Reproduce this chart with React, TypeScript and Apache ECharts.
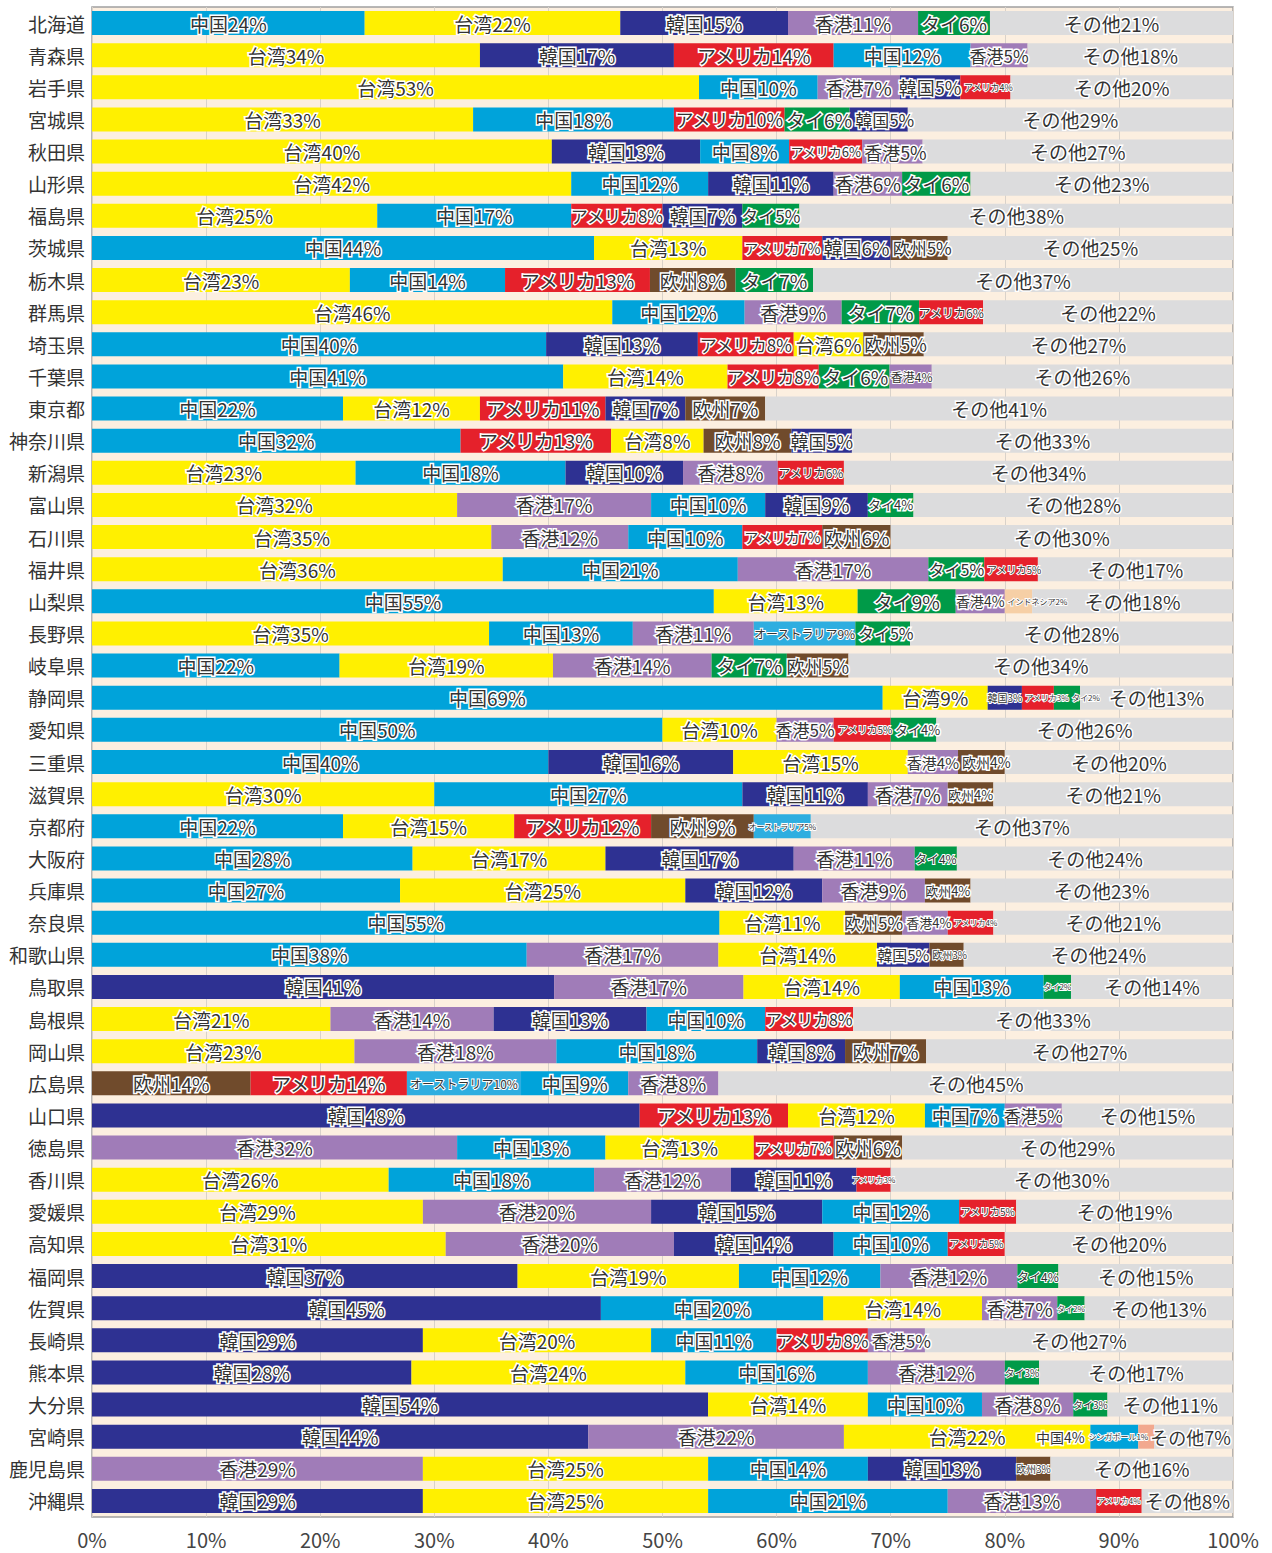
import React, { useEffect, useRef } from "react";
import * as echarts from "echarts";

const prefectures = [
  "北海道", "青森県", "岩手県", "宮城県", "秋田県", "山形県", "福島県", "茨城県", "栃木県", "群馬県",
  "埼玉県", "千葉県", "東京都", "神奈川県", "新潟県", "富山県", "石川県", "福井県", "山梨県", "長野県",
  "岐阜県", "静岡県", "愛知県", "三重県", "滋賀県", "京都府", "大阪府", "兵庫県", "奈良県", "和歌山県",
  "鳥取県", "島根県", "岡山県", "広島県", "山口県", "徳島県", "香川県", "愛媛県", "高知県", "福岡県",
  "佐賀県", "長崎県", "熊本県", "大分県", "宮崎県", "鹿児島県", "沖縄県",
];

// Markets in each prefecture's bar, left to right
const markets: string[][] = [
  ["中国", "台湾", "韓国", "香港", "タイ", "その他"],
  ["台湾", "韓国", "アメリカ", "中国", "香港", "その他"],
  ["台湾", "中国", "香港", "韓国", "アメリカ", "その他"],
  ["台湾", "中国", "アメリカ", "タイ", "韓国", "その他"],
  ["台湾", "韓国", "中国", "アメリカ", "香港", "その他"],
  ["台湾", "中国", "韓国", "香港", "タイ", "その他"],
  ["台湾", "中国", "アメリカ", "韓国", "タイ", "その他"],
  ["中国", "台湾", "アメリカ", "韓国", "欧州", "その他"],
  ["台湾", "中国", "アメリカ", "欧州", "タイ", "その他"],
  ["台湾", "中国", "香港", "タイ", "アメリカ", "その他"],
  ["中国", "韓国", "アメリカ", "台湾", "欧州", "その他"],
  ["中国", "台湾", "アメリカ", "タイ", "香港", "その他"],
  ["中国", "台湾", "アメリカ", "韓国", "欧州", "その他"],
  ["中国", "アメリカ", "台湾", "欧州", "韓国", "その他"],
  ["台湾", "中国", "韓国", "香港", "アメリカ", "その他"],
  ["台湾", "香港", "中国", "韓国", "タイ", "その他"],
  ["台湾", "香港", "中国", "アメリカ", "欧州", "その他"],
  ["台湾", "中国", "香港", "タイ", "アメリカ", "その他"],
  ["中国", "台湾", "タイ", "香港", "インドネシア", "その他"],
  ["台湾", "中国", "香港", "オーストラリア", "タイ", "その他"],
  ["中国", "台湾", "香港", "タイ", "欧州", "その他"],
  ["中国", "台湾", "韓国", "アメリカ", "タイ", "その他"],
  ["中国", "台湾", "香港", "アメリカ", "タイ", "その他"],
  ["中国", "韓国", "台湾", "香港", "欧州", "その他"],
  ["台湾", "中国", "韓国", "香港", "欧州", "その他"],
  ["中国", "台湾", "アメリカ", "欧州", "オーストラリア", "その他"],
  ["中国", "台湾", "韓国", "香港", "タイ", "その他"],
  ["中国", "台湾", "韓国", "香港", "欧州", "その他"],
  ["中国", "台湾", "欧州", "香港", "アメリカ", "その他"],
  ["中国", "香港", "台湾", "韓国", "欧州", "その他"],
  ["韓国", "香港", "台湾", "中国", "タイ", "その他"],
  ["台湾", "香港", "韓国", "中国", "アメリカ", "その他"],
  ["台湾", "香港", "中国", "韓国", "欧州", "その他"],
  ["欧州", "アメリカ", "オーストラリア", "中国", "香港", "その他"],
  ["韓国", "アメリカ", "台湾", "中国", "香港", "その他"],
  ["香港", "中国", "台湾", "アメリカ", "欧州", "その他"],
  ["台湾", "中国", "香港", "韓国", "アメリカ", "その他"],
  ["台湾", "香港", "韓国", "中国", "アメリカ", "その他"],
  ["台湾", "香港", "韓国", "中国", "アメリカ", "その他"],
  ["韓国", "台湾", "中国", "香港", "タイ", "その他"],
  ["韓国", "中国", "台湾", "香港", "タイ", "その他"],
  ["韓国", "台湾", "中国", "アメリカ", "香港", "その他"],
  ["韓国", "台湾", "中国", "香港", "タイ", "その他"],
  ["韓国", "台湾", "中国", "香港", "タイ", "その他"],
  ["韓国", "香港", "台湾", "中国", "シンガポール", "その他"],
  ["香港", "台湾", "中国", "韓国", "欧州", "その他"],
  ["韓国", "台湾", "中国", "香港", "アメリカ", "その他"],
];

// Shares (%) matching the markets above
const shares: number[][] = [
  [23.9, 22.4, 14.7, 11.4, 6.3, 21.3],
  [34, 17, 14, 12, 5, 18],
  [53.2, 10.4, 7.2, 5.3, 4.4, 19.5],
  [33.4, 17.6, 9.7, 5.7, 5.1, 28.5],
  [40.3, 13.0, 7.8, 6.4, 5.3, 27.2],
  [42, 12, 11, 6, 6, 23],
  [25, 17, 8, 7, 5, 38],
  [44, 13, 7, 6, 5, 25],
  [22.6, 13.6, 12.7, 7.5, 6.8, 36.8],
  [45.6, 11.6, 8.5, 6.8, 5.6, 21.9],
  [39.8, 13.3, 8.4, 6.1, 5.3, 27.1],
  [41.3, 14.4, 8.0, 6.2, 3.7, 26.4],
  [22, 12, 11, 7, 7, 41],
  [32.3, 13.2, 8.1, 7.7, 5.3, 33.4],
  [23.1, 18.4, 10.3, 8.3, 5.8, 34.1],
  [32, 17, 10, 9, 4, 28],
  [35, 12, 10, 7, 6, 30],
  [36.0, 20.6, 16.7, 4.9, 4.7, 17.1],
  [54.5, 12.6, 8.6, 4.3, 2.4, 17.6],
  [34.8, 12.6, 10.6, 8.9, 4.8, 28.3],
  [21.7, 18.7, 13.9, 6.6, 5.4, 33.7],
  [69.3, 9.2, 3.0, 2.8, 2.3, 13.4],
  [50, 10, 5, 5, 4, 26],
  [40.0, 16.2, 15.3, 4.4, 4.1, 20.0],
  [30, 27, 11, 7, 4, 21],
  [22, 15, 12, 9, 5, 37],
  [28.1, 16.9, 16.5, 10.6, 3.7, 24.2],
  [27, 25, 12, 9, 4, 23],
  [55, 11, 5, 4, 4, 21],
  [38.1, 16.8, 13.9, 4.6, 3.0, 23.6],
  [40.5, 16.6, 13.7, 12.6, 2.4, 14.2],
  [20.9, 14.3, 13.4, 10.4, 7.7, 33.3],
  [23.0, 17.7, 17.6, 7.7, 7.1, 26.9],
  [13.9, 13.7, 10.0, 9.4, 7.9, 45.1],
  [48, 13, 12, 7, 5, 15],
  [32, 13, 13, 7, 6, 29],
  [26, 18, 12, 11, 3, 30],
  [29, 20, 15, 12, 5, 19],
  [31, 20, 14, 10, 5, 20],
  [37.3, 19.4, 12.4, 12.0, 3.6, 15.3],
  [44.6, 19.5, 13.9, 6.6, 2.4, 13.0],
  [29, 20, 11, 8, 5, 27],
  [28, 24, 16, 12, 3, 17],
  [54, 14, 10, 8, 3, 11],
  [43.5, 22.4, 21.6, 4.2, 1.4, 6.9],
  [29, 25, 14, 13, 3, 16],
  [29, 25, 21, 13, 4, 8],
];

const marketColors: Record<string, string> = {
  "中国": "#00a3da",
  "台湾": "#fff000",
  "韓国": "#2e3192",
  "香港": "#a07cb8",
  "タイ": "#009a48",
  "アメリカ": "#e5212b",
  "欧州": "#704b2c",
  "オーストラリア": "#2eaee0",
  "インドネシア": "#f6cfa6",
  "シンガポール": "#f2a88e",
  "その他": "#dcdcdd",
};

const FONT = "'Noto Sans CJK JP', 'Noto Sans', sans-serif";
const PLOT_LEFT = 92;
const PLOT_RIGHT = 1233;
const PLOT_W = PLOT_RIGHT - PLOT_LEFT;
const PX_PER_PCT = PLOT_W / 100;

function textUnits(t: string): number {
  let u = 0;
  for (const ch of t) {
    if (/[0-9]/.test(ch)) u += 0.58;
    else if (ch === "%") u += 0.88;
    else u += 1.0;
  }
  return u;
}

function fitSize(units: number, widthPx: number): number {
  const s = Math.floor((widthPx + 2) / units);
  return Math.max(8, Math.min(19, s));
}

// Per-row label layout: font size fitted to the segment, then shifted so texts never overlap
function layoutRow(r: number) {
  const items: { size: number; w: number; ideal: number; x: number }[] = [];
  let cum = 0;
  for (let i = 0; i < shares[r].length; i++) {
    const v = shares[r][i];
    const text = markets[r][i] + Math.round(v) + "%";
    const units = textUnits(text);
    const size = fitSize(units, v * PX_PER_PCT);
    const w = size * units + 2;
    const ideal = (cum + v / 2) * PX_PER_PCT;
    items.push({ size, w, ideal, x: ideal });
    cum += v;
  }
  let prevRight = -Infinity;
  for (const it of items) {
    it.x = Math.max(it.ideal, prevRight + it.w / 2 + 1);
    prevRight = it.x + it.w / 2;
  }
  let nextLeft = PLOT_W;
  for (let i = items.length - 1; i >= 0; i--) {
    const it = items[i];
    it.x = Math.min(it.x, nextLeft - it.w / 2 - 1);
    nextLeft = it.x - it.w / 2;
  }
  return items;
}

export default function App() {
  const ref = useRef<HTMLDivElement>(null);
  useEffect(() => {
    if (!ref.current) return;
    const chart = echarts.init(ref.current, null, { renderer: "svg" });
    const layouts = prefectures.map((_, r) => layoutRow(r));
    const ranks = [0, 1, 2, 3, 4, 5];
    const series = ranks.map((rank) => ({
      type: "bar",
      stack: "total",
      barWidth: 24,
      data: prefectures.map((_, r) => {
        const m = markets[r][rank];
        const v = shares[r][rank];
        const lay = layouts[r][rank];
        return {
          value: v,
          market: m,
          itemStyle: { color: marketColors[m] },
          label: {
            fontSize: lay.size,
            textBorderWidth: lay.size < 13 ? 2 : 3,
            offset: [Math.round(lay.x - lay.ideal), 0],
          },
        };
      }),
      label: {
        show: true,
        position: "inside",
        formatter: (p: any) => `${p.data.market}${Math.round(p.value)}%`,
        color: "#333",
        fontFamily: FONT,
        textBorderColor: "#fff",
        textBorderWidth: 3,
      },
    }));

    chart.setOption({
      animation: false,
      backgroundColor: "#ffffff",
      grid: {
        left: PLOT_LEFT,
        right: 1272 - PLOT_RIGHT,
        top: 7,
        bottom: 36,
        show: true,
        backgroundColor: "#fcefe0",
        borderColor: "#a0a0a0",
        borderWidth: 1.5,
      },
      xAxis: {
        type: "value",
        min: 0,
        max: 100,
        interval: 10,
        axisLine: { show: false },
        axisTick: { show: false },
        axisLabel: {
          formatter: "{value}%",
          color: "#444",
          fontSize: 20,
          fontFamily: FONT,
          margin: 12,
        },
        splitLine: { show: true, lineStyle: { color: "#d9d2ca", width: 1 } },
      },
      yAxis: {
        type: "category",
        inverse: true,
        data: prefectures,
        axisLine: { show: false },
        axisTick: { show: false },
        axisLabel: {
          color: "#333",
          fontSize: 19,
          fontFamily: FONT,
          margin: 7,
        },
      },
      series,
    });
    return () => chart.dispose();
  }, []);

  return (
    <div
      ref={ref}
      style={{ position: "absolute", left: 0, top: 0, width: 1272, height: 1553 }}
    />
  );
}
